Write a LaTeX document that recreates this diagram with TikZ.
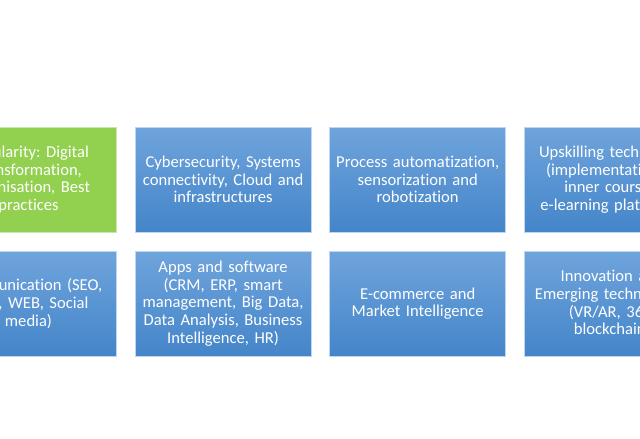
\documentclass[tikz,border=0pt]{standalone}
\usepackage{fontspec}
\setmainfont{Carlito}[Ligatures=NoCommon]
\usetikzlibrary{positioning}
\definecolor{tileTop}{HTML}{6FA4DC}
\definecolor{tileBottom}{HTML}{4485C9}
\definecolor{tileGreen}{HTML}{92D050}
\frenchspacing
\tikzset{
  tile/.style={rectangle, minimum width=176pt, minimum height=105pt,
    text width=174pt, align=center, inner sep=0pt, text=white,
    font=\fontsize{16.6}{17.6}\selectfont, line width=0.6pt},
  bluetile/.style={tile, draw=tileTop!45!white, top color=tileTop, bottom color=tileBottom},
  greentile/.style={tile, draw=tileGreen!50!white, fill=tileGreen}
}
\begin{document}
\begin{tikzpicture}[x=1pt,y=-1pt,node distance=18.5pt and 18pt]
    \useasboundingbox (0,0) rectangle (640,439);
    \clip (0,0) rectangle (640,439);
    % top row
    \node[greentile] (digit) at (28.5,179.5) {Regularity: Digital\\ Transformation,\\ Japonisation, Best\\ practices};
    \node[bluetile, right=of digit] (cyber) {Cybersecurity, Systems\\ connectivity, Cloud and\\ infrastructures};
    \node[bluetile, right=of cyber] (process) {Process automatization,\\ sensorization and\\ robotization};
    \node[bluetile, right=of process] (upskill) {Upskilling technicians\\ (implementation of\\ inner courses,\\ e-learning platforms)};
    % bottom row
    \node[bluetile, below=of digit] (comm) {Communication (SEO,\\ SEM, WEB, Social\\ media)};
    \node[bluetile, below=of cyber] (apps) {Apps and software\\ (CRM, ERP, smart\\ management, Big Data,\\ Data Analysis, Business\\ Intelligence, HR)};
    \node[bluetile, below=of process] (ecomm) {E-commerce and\\ Market Intelligence};
    \node[bluetile, below=of upskill] (innov) {Innovation and\\ Emerging technologies\\ (VR/AR, 360,\\ blockchain)};
\end{tikzpicture}
\end{document}
